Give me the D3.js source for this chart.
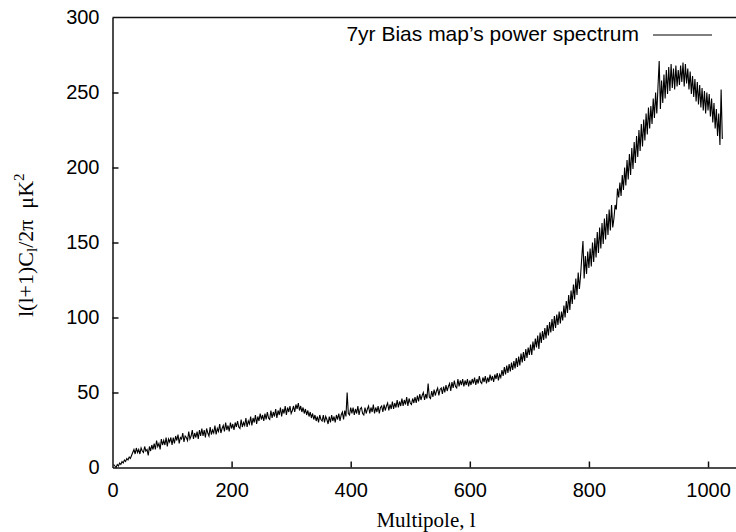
<!DOCTYPE html>
<html>
<head>
<meta charset="utf-8">
<script src="https://cdn.jsdelivr.net/npm/d3@7"></script>
<style>
body { margin: 0; background: #fff; }
</style>
</head>
<body>
<div id="viz"></div>
<script>
var width = 736;
var height = 532;

// multipoles start at 2, one value every 2 (one row = 50 multipoles)
var ellStart = 2;
var ellStep = 2;

var powerSpectrum = [
	2, 1, 0, 2, 1, 3, 2, 4, 3, 5, 4, 6, 5, 7, 6, 8, 10, 12, 9, 13, 10, 12, 9, 13, 11,
	10, 14, 11, 12, 8, 14, 11, 15, 12, 16, 12, 18, 14, 16, 12, 19, 15, 18, 15, 20, 14, 19, 17, 20, 15,
	20, 16, 21, 18, 22, 16, 20, 19, 23, 17, 21, 20, 18, 24, 19, 21, 25, 19, 23, 20, 24, 19, 25, 21, 26,
	21, 25, 20, 26, 23, 21, 27, 22, 25, 23, 28, 22, 26, 24, 29, 23, 26, 28, 24, 30, 25, 28, 24, 30, 26,
	29, 25, 30, 27, 31, 27, 26, 32, 27, 30, 28, 33, 27, 31, 29, 34, 28, 33, 30, 35, 29, 34, 31, 36, 32,
	35, 31, 36, 32, 37, 33, 32, 38, 33, 37, 34, 39, 33, 38, 35, 40, 34, 39, 36, 41, 35, 40, 37, 41, 36,
	38, 41, 37, 42, 39, 43, 38, 41, 37, 40, 36, 39, 35, 38, 34, 37, 33, 36, 32, 35, 31, 34, 30, 35, 32,
	31, 35, 30, 34, 32, 29, 34, 30, 35, 31, 34, 30, 35, 32, 36, 31, 35, 37, 32, 38, 34, 50, 36, 35, 40,
	36, 40, 35, 39, 36, 41, 35, 39, 40, 36, 35, 40, 36, 39, 41, 36, 40, 37, 42, 36, 40, 37, 41, 36, 40,
	41, 37, 42, 38, 41, 43, 38, 42, 39, 44, 39, 43, 40, 45, 40, 44, 41, 46, 41, 45, 42, 47, 41, 46, 43,
	42, 46, 43, 47, 43, 48, 44, 49, 45, 48, 50, 45, 49, 46, 56, 47, 46, 51, 47, 52, 48, 51, 53, 48, 52,
	53, 49, 54, 50, 55, 51, 54, 56, 51, 57, 53, 58, 54, 53, 59, 54, 58, 55, 59, 54, 58, 55, 59, 54, 58,
	55, 59, 56, 60, 55, 59, 56, 61, 57, 56, 60, 57, 61, 56, 60, 57, 62, 58, 61, 57, 62, 59, 63, 58, 62,
	60, 65, 61, 67, 62, 68, 63, 69, 64, 70, 65, 71, 66, 73, 67, 74, 68, 76, 70, 77, 71, 79, 73, 80, 75,
	82, 75, 84, 78, 86, 80, 88, 79, 90, 83, 91, 85, 93, 86, 95, 88, 97, 90, 99, 91, 101, 93, 102, 95, 104,
	96, 104, 98, 108, 100, 111, 103, 115, 105, 118, 109, 122, 112, 126, 115, 130, 119, 128, 140, 151, 126, 141, 129, 144, 133,
	146, 134, 150, 137, 153, 140, 157, 143, 160, 146, 163, 149, 166, 152, 169, 155, 172, 158, 175, 160, 166, 175, 172, 186, 180,
	190, 181, 195, 185, 200, 188, 205, 192, 209, 195, 213, 199, 217, 203, 221, 207, 225, 211, 229, 214, 232, 218, 236, 222, 240,
	226, 241, 229, 246, 233, 250, 236, 254, 271, 239, 258, 243, 262, 246, 265, 249, 267, 251, 269, 253, 266, 252, 268, 254, 265,
	255, 268, 257, 270, 254, 269, 256, 266, 252, 264, 249, 261, 247, 259, 244, 257, 242, 255, 240, 253, 238, 251, 236, 250, 238,
	249, 234, 246, 230, 243, 226, 239, 221, 236, 215, 252, 219
];

var xTicks = [0, 200, 400, 600, 800, 1000];
var yTicks = [0, 50, 100, 150, 200, 250, 300];
var legendLabel = "7yr Bias map\u2019s power spectrum";

var data = powerSpectrum.map(function(v, i){
	return {ell: ellStart + i*ellStep, cl: v};
});

var canvas = d3.select('#viz')
		.append('svg')
		.attr("height",height)
		.attr("width",width);

var xScale = d3.scaleLinear()
	.domain([0,1050])
	.range([112.5,737.8]);

var yScale = d3.scaleLinear()
	.domain([0,300])
	.range([467.5,17.5]);

var xAxis = d3.axisBottom()
	.scale(xScale)
	.tickValues(xTicks)
	.tickFormat(d3.format("d"))
	.tickSizeInner(-6)
	.tickSizeOuter(0)
	.tickPadding(15);

var yAxis = d3.axisLeft()
	.scale(yScale)
	.tickValues(yTicks)
	.tickFormat(d3.format("d"))
	.tickSizeInner(-6)
	.tickSizeOuter(0)
	.tickPadding(13);

var gx = canvas.append("g")
	.attr("transform","translate(0,467.5)")
	.call(xAxis);

var gy = canvas.append("g")
	.attr("transform","translate(112.5,0)")
	.call(yAxis);

canvas.selectAll(".tick text")
	.attr("font-family","'Liberation Sans', Arial, sans-serif")
	.attr("font-size",20)
	.attr("fill","#000");
canvas.selectAll(".domain, .tick line")
	.attr("stroke","#111")
	.attr("stroke-width",1.5);
// no ticks at the origin corner
gx.selectAll(".tick").filter(function(d){return d===0}).select("line").remove();
gy.selectAll(".tick").filter(function(d){return d===0 || d===300}).select("line").remove();

// top border
canvas.append("line")
	.attr("x1",xScale(0)).attr("x2",width)
	.attr("y1",yScale(300)).attr("y2",yScale(300))
	.attr("stroke","#111")
	.attr("stroke-width",1.5);

var line = d3.line()
	.x(function(d){return xScale(d.ell)})
	.y(function(d){return yScale(d.cl)});

canvas.append("path")
	.datum(data)
	.attr("d",line)
	.attr("fill","none")
	.attr("stroke","#000")
	.attr("stroke-width",1.1)
	.attr("stroke-linejoin","miter");

// legend
canvas.append("text")
	.attr("x",639)
	.attr("y",41)
	.attr("text-anchor","end")
	.attr("font-family","'Liberation Sans', Arial, sans-serif")
	.attr("font-size",21)
	.text(legendLabel);

canvas.append("line")
	.attr("x1",653).attr("x2",712)
	.attr("y1",35).attr("y2",35)
	.attr("stroke","#000")
	.attr("stroke-width",1);

// axis titles
canvas.append("text")
	.attr("x",426)
	.attr("y",527)
	.attr("text-anchor","middle")
	.attr("font-family","'Liberation Serif', 'Times New Roman', serif")
	.attr("font-size",21)
	.text("Multipole, l");

var yLabel = canvas.append("text")
	.attr("transform","translate(33,317) rotate(-90)")
	.attr("font-family","'Liberation Serif', 'Times New Roman', serif")
	.attr("font-size",22);
yLabel.append("tspan").text("l(l+1)C");
yLabel.append("tspan").attr("font-size",15).attr("dy",4).text("l");
yLabel.append("tspan").attr("dy",-4).text("/2\u03c0\u00a0\u00a0\u03bcK");
yLabel.append("tspan").attr("font-size",15).attr("dy",-9).text("2");
</script>
</body>
</html>
